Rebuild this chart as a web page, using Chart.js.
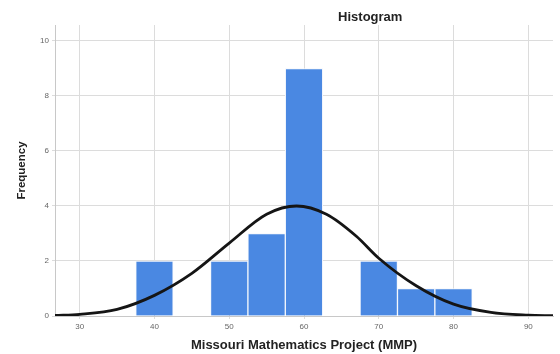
<!DOCTYPE html>
<html>
<head>
<meta charset="utf-8">
<script src="https://cdn.jsdelivr.net/npm/chart.js@4/dist/chart.umd.min.js"></script>
<style>
  html, body { margin: 0; padding: 0; background: #fff; }
  #wrap { width: 560px; height: 354px; }
</style>
</head>
<body>
<div id="wrap"><canvas id="c" width="560" height="354"></canvas></div>
<script>
// Score bins (bin centres, width 5) and how many students fall in each
const binCenters = [40, 50, 55, 60, 70, 75, 80];
const binCounts  = [2, 2, 3, 9, 2, 1, 1];

// Fitted normal curve, sampled along the score axis
const curveX = [26.7, 30, 35, 40, 45, 50, 55, 59, 63, 67, 70, 75, 80, 85, 90, 93.3];
const curveY = [0.02, 0.06, 0.24, 0.75, 1.55, 2.65, 3.7, 4.0, 3.7, 2.9, 2.1, 1.1, 0.43, 0.13, 0.03, 0.01];

// Axis ticks
const xTicks = [30, 40, 50, 60, 70, 80, 90];
const yTicks = [0, 2, 4, 6, 8, 10];

const chartTitle = 'Histogram';

const barData = binCenters.map((x, i) => ({ x: x, y: binCounts[i] }));
const curveData = curveX.map((x, i) => ({ x: x, y: curveY[i] }));

const FONT = 'Liberation Sans, Arial, sans-serif';
const gridColor = '#dcdcdc';
const tickFont = { family: FONT, size: 8 };

// Title drawn above the plot, a little right of centre
const titlePlugin = {
  id: 'histTitle',
  afterDraw(chart) {
    const { ctx, chartArea } = chart;
    ctx.save();
    ctx.font = 'bold 13px ' + FONT;
    ctx.fillStyle = '#222';
    ctx.textAlign = 'center';
    ctx.textBaseline = 'middle';
    const x = chartArea.left + (chartArea.right - chartArea.left) * 0.633;
    ctx.fillText(chartTitle, x, 17);
    ctx.restore();
  }
};

new Chart(document.getElementById('c'), {
  data: {
    datasets: [
      {
        type: 'line',
        data: curveData,
        borderColor: '#151515',
        borderWidth: 2.8,
        pointRadius: 0,
        fill: false,
        cubicInterpolationMode: 'monotone',
        order: 0
      },
      {
        type: 'bar',
        data: barData,
        backgroundColor: '#4a88e2',
        borderColor: '#f4f7fc',
        borderWidth: 1,
        borderSkipped: 'bottom',
        barPercentage: 1,
        categoryPercentage: 1,
        order: 1
      }
    ]
  },
  plugins: [titlePlugin],
  options: {
    responsive: false,
    animation: false,
    devicePixelRatio: 1,
    layout: { padding: { top: 25, right: 7, bottom: 0, left: 0 } },
    plugins: {
      legend: { display: false },
      tooltip: { enabled: false },
      title: { display: false }
    },
    scales: {
      x: {
        type: 'linear',
        offset: false,
        min: 26.7,
        max: 93.3,
        afterBuildTicks: s => { s.ticks = xTicks.map(v => ({ value: v })); },
        afterFit: s => { s.height = 38; },
        grid: { color: gridColor, lineWidth: 1, tickLength: 3, offset: false },
        border: { color: '#c8c8c8', width: 1 },
        ticks: { color: '#666', font: tickFont, padding: 3, maxRotation: 0 },
        title: {
          display: true,
          text: 'Missouri Mathematics Project (MMP)',
          color: '#222',
          font: { family: FONT, size: 13, weight: 'bold' },
          padding: { top: 4, bottom: 1 }
        }
      },
      y: {
        type: 'linear',
        min: 0,
        max: 10.58,
        afterBuildTicks: s => { s.ticks = yTicks.map(v => ({ value: v })); },
        afterFit: s => { s.width = 55; },
        grid: { color: gridColor, lineWidth: 1, tickLength: 3 },
        border: { color: '#c8c8c8', width: 1 },
        ticks: { color: '#666', font: tickFont, padding: 3 },
        title: {
          display: true,
          text: 'Frequency',
          color: '#222',
          font: { family: FONT, size: 11.5, weight: 'bold' },
          padding: { top: 15, bottom: 0 }
        }
      }
    }
  }
});
</script>
</body>
</html>
